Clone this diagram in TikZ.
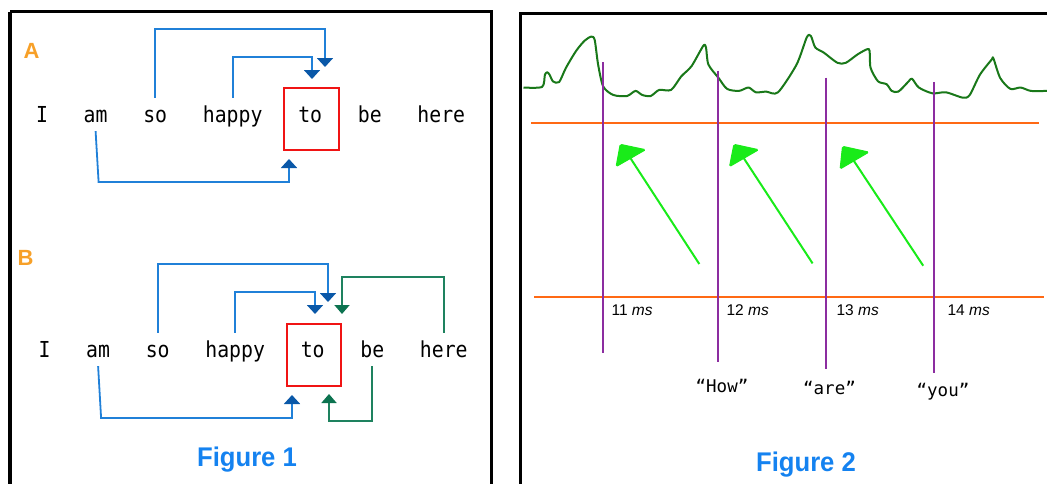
\documentclass[tikz,border=0pt]{standalone}
\usepackage{fontspec}
\usetikzlibrary{arrows.meta}
\newfontfamily\wordfont[FakeStretch=0.9]{DejaVu Sans Mono}
\newfontfamily\quotefont{DejaVu Sans Mono}
\newfontfamily\labelfont{Liberation Sans}
\newfontfamily\headfont[FakeStretch=0.95]{Liberation Sans}
\definecolor{linkblue}{RGB}{32,128,216}
\definecolor{headblue}{RGB}{10,88,168}
\definecolor{linkgreen}{RGB}{30,130,95}
\definecolor{headgreen}{RGB}{12,115,80}
\definecolor{boxred}{RGB}{240,20,20}
\definecolor{tagorange}{RGB}{247,160,40}
\definecolor{capblue}{RGB}{20,130,240}
\definecolor{wavegreen}{RGB}{25,120,25}
\definecolor{markpurple}{RGB}{140,45,160}
\definecolor{axisorange}{RGB}{255,105,20}
\definecolor{flowgreen}{RGB}{25,235,25}
\tikzset{
  word/.style={anchor=base, inner xsep=0pt, inner ysep=8pt, text height=16pt,
    text depth=1pt, font=\wordfont\fontsize{22}{24}\selectfont},
  focusbox/.style={draw=boxred, line width=2pt, minimum width=55pt,
    minimum height=62pt, inner sep=0pt},
  bluelink/.style={draw=linkblue, line width=1.8pt,
    -{Triangle[width=16pt,length=9pt,color=headblue]}},
  greenlink/.style={draw=linkgreen, line width=1.8pt,
    -{Triangle[width=15pt,length=9pt,color=headgreen]}},
  paneltag/.style={anchor=base, text=tagorange, font=\labelfont\bfseries\fontsize{22}{24}\selectfont},
  caption/.style={anchor=base, text=capblue, font=\headfont\bfseries\fontsize{27}{30}\selectfont},
  panel/.style={draw=black, line width=3.5pt},
  wave/.style={draw=wavegreen, line width=2pt, line join=round},
  marker/.style={draw=markpurple, line width=2pt},
  axis/.style={draw=axisorange, line width=2pt},
  flow/.style={draw=flowgreen, line width=2pt},
  mslabel/.style={anchor=base west, font=\labelfont\fontsize{15.5}{17}\selectfont},
  spoken/.style={anchor=base, font=\quotefont\fontsize{17.5}{20}\selectfont}
}
\begin{document}
\begin{tikzpicture}[x=1pt,y=-1pt]
\useasboundingbox (0,0) rectangle (1047,483);
\clip (0,0) rectangle (1047,483);

% ---------------- Figure 1 ----------------
\draw[panel] (10,11.5) -- (491.5,11.5) -- (491.5,495) (10,495) -- (10,11.5);

% part A
\node[paneltag] (tagA) at (31.5,58) {A};
\node[word] (iA)     at (42.0,122)  {I};
\node[word] (amA)    at (95.6,122)  {am};
\node[word] (soA)    at (155.2,122) {so};
\node[word] (happyA) at (232.7,122) {happy};
\node[word] (toA)    at (310.2,122) {to};
\node[word] (beA)    at (369.8,122) {be};
\node[word] (hereA)  at (441.3,122) {here};
\node[focusbox] (boxA) at (311.5,119) {};

\draw[bluelink] (soA.north) -- (soA.north |- 0,29) -| ([xshift=13.5pt,yshift=20pt]boxA.north);
\draw[bluelink] (happyA.north) -- (happyA.north |- 0,57) -| ([xshift=0.5pt,yshift=8pt]boxA.north);
\draw[bluelink] (amA.south) -- ([xshift=3pt]amA.south |- 0,182) -| ([xshift=-22.5pt,yshift=-8pt]boxA.south);

% part B
\node[paneltag] (tagB) at (25.5,265) {B};
\node[word] (iB)     at (44.5,357)  {I};
\node[word] (amB)    at (98.1,357)  {am};
\node[word] (soB)    at (157.7,357) {so};
\node[word] (happyB) at (235.2,357) {happy};
\node[word] (toB)    at (312.7,357) {to};
\node[word] (beB)    at (372.3,357) {be};
\node[word] (hereB)  at (443.8,357) {here};
\node[focusbox, minimum width=54pt] (boxB) at (314,355) {};

\draw[bluelink] (soB.north) -- (soB.north |- 0,264) -| ([xshift=14pt,yshift=21pt]boxB.north);
\draw[bluelink] (happyB.north) -- (happyB.north |- 0,292) -| ([xshift=1pt,yshift=9pt]boxB.north);
\draw[bluelink] (amB.south) -- ([xshift=3pt]amB.south |- 0,418) -| ([xshift=-22pt,yshift=-8pt]boxB.south);
\draw[greenlink] (hereB.north) -- (hereB.north |- 0,277) -| ([xshift=28pt,yshift=9pt]boxB.north);
\draw[greenlink] (beB.south) -- (beB.south |- 0,421) -| ([xshift=15pt,yshift=-7pt]boxB.south);

\node[caption] (cap1) at (247,466) {Figure 1};

% ---------------- Figure 2 ----------------
\draw[panel] (520.5,495) -- (520.5,13.5) -- (1060,13.5);

% signal trace
\draw[wave] plot[smooth, tension=0.45] coordinates {
  (523.5,87.5) (542.1,86.9) (544.9,74.7) (547.2,72.3) (549.6,74.7) (553.0,81.4)
  (559.1,82.1) (565.9,67.9) (576.1,50.9) (584.6,40.7) (591.3,36.6) (594.7,40.0)
  (598.1,64.5) (603.2,86.5) (613.4,95.0) (627.0,96.0) (635.5,90.9) (642.3,95.0)
  (650.7,96.0) (659.2,89.9) (671.1,89.9) (681.3,76.3) (691.5,66.2) (703.3,45.8)
  (706.0,47.5) (708.4,64.5) (718.6,78.0) (727.1,88.9) (739.0,90.9) (748.5,87.5)
  (755.9,92.3) (766.1,91.6) (778.0,92.3) (796.6,64.5) (806.8,37.3) (810.9,36.0)
  (815.3,47.5) (823.8,52.6) (837.4,62.8) (845.8,62.8) (857.7,54.3) (867.2,49.2)
  (869.6,50.9) (870.6,67.9) (878.1,81.4) (886.6,84.2) (891.7,90.9) (898.4,91.6)
  (908.6,81.4) (912.0,78.7) (918.8,87.5) (932.4,93.3) (945.9,92.3) (962.9,97.7)
  (969.7,95.0) (979.9,74.7) (991.8,59.4) (993.4,58.4) (1000.2,78.0) (1010.4,88.9)
  (1020.6,87.5) (1030.8,90.9) (1047,90.9)};

% time lines
\draw[axis] (531,123) -- (1039,123);
\draw[axis] (534,297) -- (1044,297);

% frame markers
\draw[marker] (602.5,62) -- (602.5,353);
\draw[marker] (717.6,70.6) -- (717.6,362);
\draw[marker] (825.8,77.7) -- (825.8,369);
\draw[marker] (934,81.8) -- (934,373);

% arrows of the flow
\coordinate (tail1) at (699.3,264);  \coordinate (head1) at (627.4,153.5);
\coordinate (tail2) at (812.6,263.4); \coordinate (head2) at (740.7,153.5);
\coordinate (tail3) at (923.2,265.7); \coordinate (head3) at (850.5,155.8);
\draw[flow] (tail1) -- (head1);
\draw[flow] (tail2) -- (head2);
\draw[flow] (tail3) -- (head3);
\fill[flowgreen, draw=flowgreen, line width=1pt, rounded corners=1.5pt]
  (616.1,166.6) -- (620.2,144.3) -- (645.6,149.7) -- cycle;
\fill[flowgreen, draw=flowgreen, line width=1pt, rounded corners=1.5pt]
  (729.5,166.6) -- (733.9,144.3) -- (758.6,149.7) -- cycle;
\fill[flowgreen, draw=flowgreen, line width=1pt, rounded corners=1.5pt]
  (840.1,169.0) -- (842.5,146.3) -- (868.9,152.1) -- cycle;

% time stamps
\node[mslabel] (ms11) at (608,315) {11 \textit{ms}};
\node[mslabel] (ms12) at (723,315) {12 \textit{ms}};
\node[mslabel] (ms13) at (833,315) {13 \textit{ms}};
\node[mslabel] (ms14) at (944,315) {14 \textit{ms}};

% spoken words
\node[spoken] (wHow) at (722,392) {“How”};
\node[spoken] (wAre) at (829.5,394) {“are”};
\node[spoken] (wYou) at (943,396) {“you”};

\node[caption] (cap2) at (806,471) {Figure 2};
\end{tikzpicture}
\end{document}
